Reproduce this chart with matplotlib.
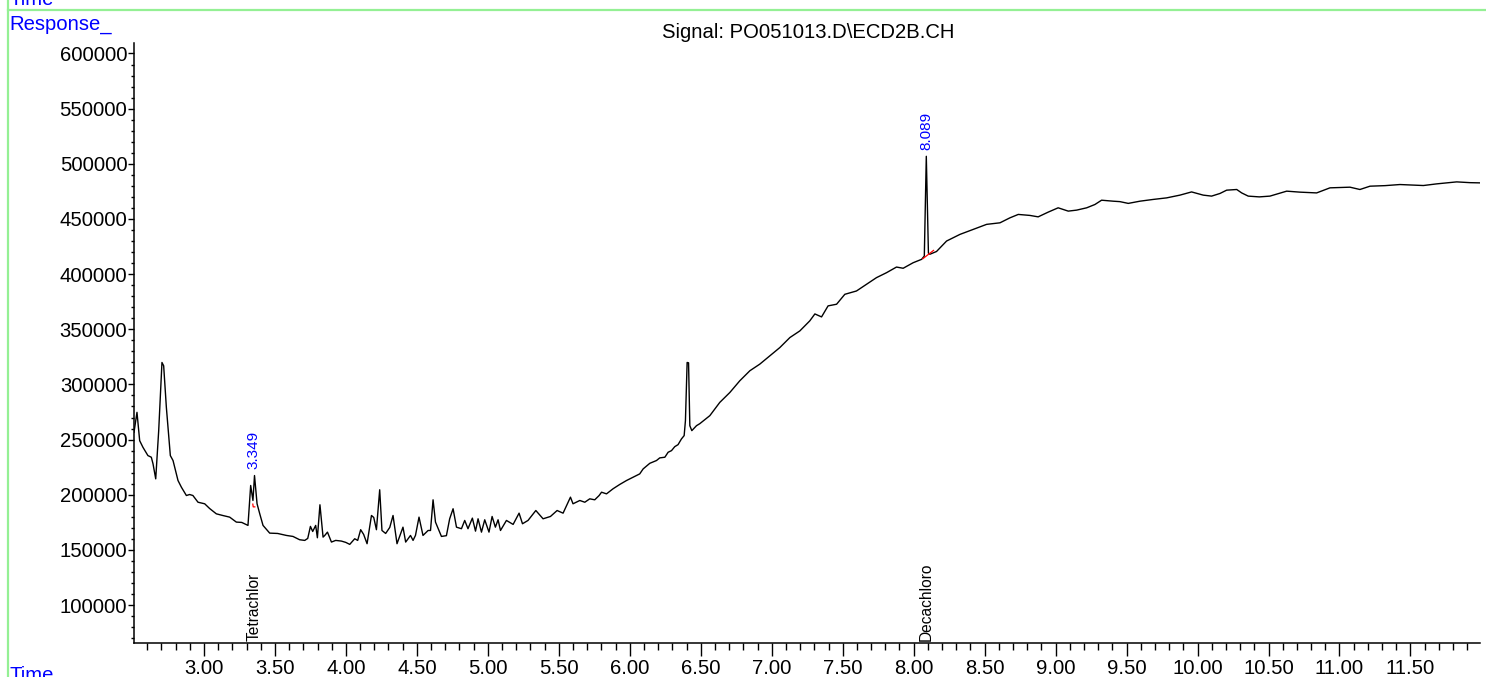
import matplotlib
matplotlib.use("Agg")
import matplotlib.pyplot as plt
from matplotlib.lines import Line2D
from matplotlib.ticker import MultipleLocator, FixedLocator

plt.rcParams['font.family'] = ['Liberation Sans', 'DejaVu Sans']

# chromatogram trace (time in min, response in counts)
time_min = [
    2.507, 2.528, 2.547, 2.570, 2.605, 2.629, 2.641, 2.660, 2.681, 2.704,
    2.716, 2.735, 2.763, 2.782, 2.817, 2.841, 2.876, 2.899, 2.922, 2.958,
    3.005, 3.040, 3.087, 3.132, 3.181, 3.228, 3.266, 3.310, 3.329, 3.345,
    3.356, 3.374, 3.393, 3.416, 3.463, 3.519, 3.581, 3.627, 3.674, 3.710,
    3.731, 3.750, 3.766, 3.787, 3.799, 3.817, 3.839, 3.851, 3.870, 3.898,
    3.928, 3.968, 3.999, 4.027, 4.062, 4.083, 4.104, 4.125, 4.149, 4.180,
    4.196, 4.215, 4.238, 4.254, 4.280, 4.309, 4.332, 4.360, 4.402, 4.421,
    4.455, 4.473, 4.490, 4.515, 4.543, 4.579, 4.596, 4.614, 4.631, 4.673,
    4.708, 4.731, 4.755, 4.779, 4.814, 4.837, 4.860, 4.891, 4.913, 4.931,
    4.955, 4.978, 5.008, 5.030, 5.053, 5.072, 5.089, 5.131, 5.178, 5.220,
    5.244, 5.283, 5.338, 5.389, 5.441, 5.488, 5.530, 5.582, 5.600, 5.648,
    5.683, 5.718, 5.753, 5.784, 5.801, 5.836, 5.882, 5.929, 5.977, 6.023,
    6.070, 6.094, 6.141, 6.188, 6.211, 6.247, 6.270, 6.294, 6.317, 6.340,
    6.364, 6.383, 6.392, 6.404, 6.414, 6.423, 6.437, 6.470, 6.493, 6.564,
    6.634, 6.705, 6.775, 6.846, 6.916, 6.987, 7.057, 7.128, 7.198, 7.268,
    7.304, 7.351, 7.397, 7.457, 7.515, 7.597, 7.668, 7.738, 7.809, 7.879,
    7.926, 7.996, 8.056, 8.075, 8.083, 8.089, 8.095, 8.104, 8.114, 8.161,
    8.232, 8.326, 8.419, 8.514, 8.608, 8.678, 8.737, 8.819, 8.877, 8.948,
    9.018, 9.089, 9.148, 9.219, 9.277, 9.324, 9.406, 9.453, 9.512, 9.594,
    9.688, 9.782, 9.876, 9.958, 10.040, 10.099, 10.158, 10.205, 10.276, 10.311,
    10.357, 10.435, 10.510, 10.628, 10.722, 10.839, 10.933, 11.074, 11.144, 11.215,
    11.321, 11.426, 11.591, 11.685, 11.826, 11.920, 11.990,
]
response = [
    256600, 274700, 249000, 243000, 235500, 234000, 228000, 214400, 258100, 319900,
    316900, 279200, 235500, 231000, 212900, 206800, 199300, 200200, 199300, 193200,
    191800, 187500, 182700, 181200, 179700, 175200, 174900, 172200, 208400, 194800,
    217400, 191800, 182700, 172200, 165200, 164900, 163100, 162200, 159200, 158600,
    160400, 171300, 166700, 172200, 161000, 190900, 161600, 163100, 166100, 157100,
    158600, 158000, 156800, 155000, 160100, 158600, 168300, 164000, 155600, 181200,
    179400, 168300, 204500, 167600, 164900, 170400, 181200, 155600, 170600, 157100,
    163100, 158600, 163100, 179700, 163100, 167600, 167600, 195400, 175200, 162200,
    162900, 178200, 187300, 170600, 169200, 176700, 169200, 178800, 167000, 178200,
    166100, 177300, 166100, 180300, 170600, 177300, 167600, 176700, 173100, 183300,
    173700, 176700, 185700, 178200, 180300, 185700, 183300, 197800, 191800, 194800,
    193200, 196300, 195400, 199300, 202300, 200800, 205400, 209300, 212900, 215900,
    218900, 223400, 228500, 231000, 233400, 234000, 238500, 240000, 243600, 245400,
    250600, 253600, 267100, 319900, 319600, 262600, 258100, 262600, 264400, 271700,
    283700, 292700, 303300, 312400, 318400, 325900, 333400, 342500, 348500, 357600,
    363900, 361200, 371200, 372700, 381700, 384700, 390800, 396800, 401300, 406400,
    405300, 410300, 413400, 416400, 470000, 506800, 470000, 419000, 418000, 420500,
    430000, 436000, 440500, 445100, 446500, 451000, 454100, 453200, 451900, 456200,
    460100, 457100, 458000, 460100, 463100, 467000, 466100, 465700, 464100, 466100,
    467700, 469100, 471600, 474500, 471600, 470700, 473100, 476100, 476700, 473600,
    470700, 470000, 470700, 475200, 474300, 473600, 478200, 478800, 476700, 479700,
    480200, 481200, 480300, 481800, 483600, 482900, 482700,
]

# integrated peaks: retention time, apex response, baseline start/end
peak_rt = [3.349, 8.089]
peak_top = [217400, 506800]
base_t = [[3.344, 3.347, 3.358], [8.065, 8.140]]
base_v = [[191500, 189000, 189000], [414000, 421500]]

# compound names under the peaks
compound_names = ['Tetrachlor', 'Decachloro']
compound_rt = [3.354, 8.091]

title_text = 'Signal: PO051013.D\\ECD2B.CH'
blue = '#0000ff'
fs = 14.6

W, H = 1486, 677
fig = plt.figure(figsize=(W / 100, H / 100), dpi=100)
ax = fig.add_axes([134 / W, 1 - 643 / H, (1480 - 134) / W, (643 - 43) / H])

ax.plot(time_min, response, color='black', lw=1.0)
for bt, bv in zip(base_t, base_v):
    ax.plot(bt, bv, color='red', lw=0.9)

for rt, top in zip(peak_rt, peak_top):
    ax.text(rt, top + 6000, f'{rt:.3f}', rotation=90, ha='center', va='bottom',
            color=blue, fontsize=11)

ax.set_xlim(2.507, 11.99)
ax.set_ylim(65600, 609500)

for name, rt in zip(compound_names, compound_rt):
    ax.text(rt, 67000, name, rotation=90, ha='center', va='bottom',
            color='black', fontsize=11.2)

ax.xaxis.set_major_locator(MultipleLocator(0.5))
ax.xaxis.set_major_formatter(lambda v, p: f'{v:.2f}')
ax.xaxis.set_minor_locator(MultipleLocator(0.1))
ax.yaxis.set_major_locator(FixedLocator(range(100000, 600001, 50000)))
ax.yaxis.set_major_formatter(lambda v, p: f'{int(v)}')
ax.yaxis.set_minor_locator(MultipleLocator(10000))

ax.tick_params(axis='x', which='major', length=9.4, width=1, labelsize=fs, pad=2)
ax.tick_params(axis='x', which='minor', length=4.8, width=1)
ax.tick_params(axis='y', which='major', length=4.3, width=1, labelsize=fs, pad=0.5)
ax.tick_params(axis='y', which='minor', length=2.2, width=1)

for s in ['top', 'right']:
    ax.spines[s].set_visible(False)
for s in ['left', 'bottom']:
    ax.spines[s].set_linewidth(1.1)

# page frame and labels around the plot
green = '#94f094'
fig.add_artist(Line2D([8 / W, 1], [1 - 10 / H, 1 - 10 / H], color=green, lw=1.6,
                      transform=fig.transFigure))
fig.add_artist(Line2D([8 / W, 8 / W], [0, 1], color=green, lw=1.6,
                      transform=fig.transFigure))
fig.text(9 / W, 1 - 5 / H, 'Time', color=blue, fontsize=fs, va='baseline')
fig.text(9 / W, 1 - 30 / H, 'Response_', color=blue, fontsize=fs, va='baseline')
fig.text(9 / W, 1 - 681 / H, 'Time', color=blue, fontsize=fs, va='baseline')
fig.text(808 / W, 1 - 38 / H, title_text, color='black', fontsize=fs,
         ha='center', va='baseline')

fig.savefig('out.png', dpi=100)
